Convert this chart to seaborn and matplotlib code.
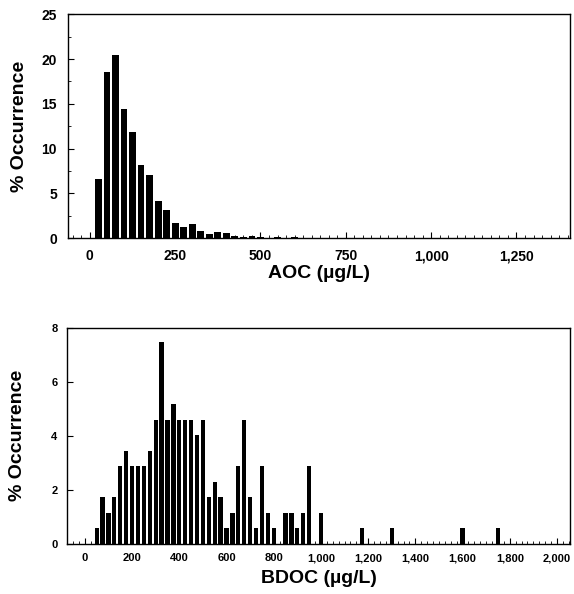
import matplotlib
matplotlib.use("Agg")
import matplotlib.pyplot as plt
from matplotlib.ticker import FuncFormatter, MultipleLocator
import seaborn as sns
import pandas as pd

# AOC histogram, bins of 25 ug/L, % occurrence
aoc_centers = [25, 50, 75, 100, 125, 150, 175, 200, 225, 250, 275, 300, 325, 350,
               375, 400, 425, 450, 475, 500, 550, 600, 700, 850, 1000, 1100]
aoc_pct = [6.6, 18.5, 20.4, 14.4, 11.9, 8.2, 7.1, 4.1, 3.2, 1.75, 1.3, 1.6, 0.85, 0.5,
           0.7, 0.6, 0.2, 0.15, 0.25, 0.1, 0.08, 0.08, 0.06, 0.06, 0.06, 0.06]

# BDOC histogram, bins of 25 ug/L
bdoc_centers = [50, 75, 100, 125, 150, 175, 200, 225, 250, 275, 300, 325, 350, 375,
                400, 425, 450, 475, 500, 525, 550, 575, 600, 625, 650, 675, 700, 725,
                750, 775, 800, 850, 875, 900, 925, 950, 1000, 1175, 1300, 1600, 1750]
bdoc_pct = [0.58, 1.72, 1.15, 1.72, 2.87, 3.45, 2.87, 2.87, 2.87, 3.45, 4.6, 7.47,
            4.6, 5.17, 4.6, 4.6, 4.6, 4.02, 4.6, 1.72, 2.3, 1.72, 0.58, 1.15, 2.87,
            4.6, 1.72, 0.58, 2.87, 1.15, 0.58, 1.15, 1.15, 0.58, 1.15, 2.87, 1.15,
            0.58, 0.58, 0.58, 0.58]

aoc = pd.DataFrame({"conc": aoc_centers, "pct": aoc_pct})
bdoc = pd.DataFrame({"conc": bdoc_centers, "pct": bdoc_pct})

sns.set_theme(style="white")
plt.rcParams["font.family"] = ["Liberation Sans", "DejaVu Sans"]
plt.rcParams["text.color"] = "black"
plt.rcParams["axes.labelcolor"] = "black"
plt.rcParams["xtick.color"] = "black"
plt.rcParams["ytick.color"] = "black"
plt.rcParams["xtick.direction"] = "in"
plt.rcParams["ytick.direction"] = "in"

fig = plt.figure(figsize=(5.74, 5.94), dpi=100)
ax1 = fig.add_axes([0.1185, 0.599, 0.8746, 0.377])
ax2 = fig.add_axes([0.117, 0.085, 0.876, 0.363])

comma = FuncFormatter(lambda v, p: f"{v:,.0f}")

sns.barplot(data=aoc, x="conc", y="pct", native_scale=True, color="black",
            width=0.8, errorbar=None, saturation=1, edgecolor="none", ax=ax1)
ax1.set_xlim(-64, 1407)
ax1.set_ylim(0, 25)
ax1.set_xticks([0, 250, 500, 750, 1000, 1250])
ax1.xaxis.set_major_formatter(comma)
ax1.xaxis.set_minor_locator(MultipleLocator(25))
ax1.set_yticks([0, 5, 10, 15, 20, 25])
ax1.yaxis.set_minor_locator(MultipleLocator(2.5))
ax1.set_xlabel("AOC (µg/L)", fontsize=14, fontweight="bold", labelpad=1)
ax1.set_ylabel("% Occurrence", fontsize=14, fontweight="bold", labelpad=10)
ax1.tick_params(axis="both", which="major", direction="in", length=4, width=0.8,
                labelsize=10, pad=8, bottom=True, left=True)
ax1.tick_params(axis="both", which="minor", direction="in", length=2, width=0.6,
                bottom=True, left=True)

sns.barplot(data=bdoc, x="conc", y="pct", native_scale=True, color="black",
            width=0.72, errorbar=None, saturation=1, edgecolor="none", ax=ax2)
ax2.set_xlim(-75, 2055)
ax2.set_ylim(0, 8)
ax2.set_xticks(range(0, 2001, 200))
ax2.xaxis.set_major_formatter(comma)
ax2.xaxis.set_minor_locator(MultipleLocator(25))
ax2.set_yticks([0, 2, 4, 6, 8])
ax2.set_xlabel("BDOC (µg/L)", fontsize=14, fontweight="bold", labelpad=5)
ax2.set_ylabel("% Occurrence", fontsize=14, fontweight="bold", labelpad=18)
ax2.tick_params(axis="both", which="major", direction="in", length=4, width=0.8,
                labelsize=8, pad=7, bottom=True, left=True)
ax2.tick_params(axis="x", which="minor", direction="in", length=2, width=0.6,
                bottom=True)

for ax in (ax1, ax2):
    for s in ax.spines.values():
        s.set_visible(True)
        s.set_color("black")
        s.set_linewidth(1)
    for lab in ax.get_xticklabels() + ax.get_yticklabels():
        lab.set_fontweight("bold")

fig.savefig("out.png", dpi=100)
